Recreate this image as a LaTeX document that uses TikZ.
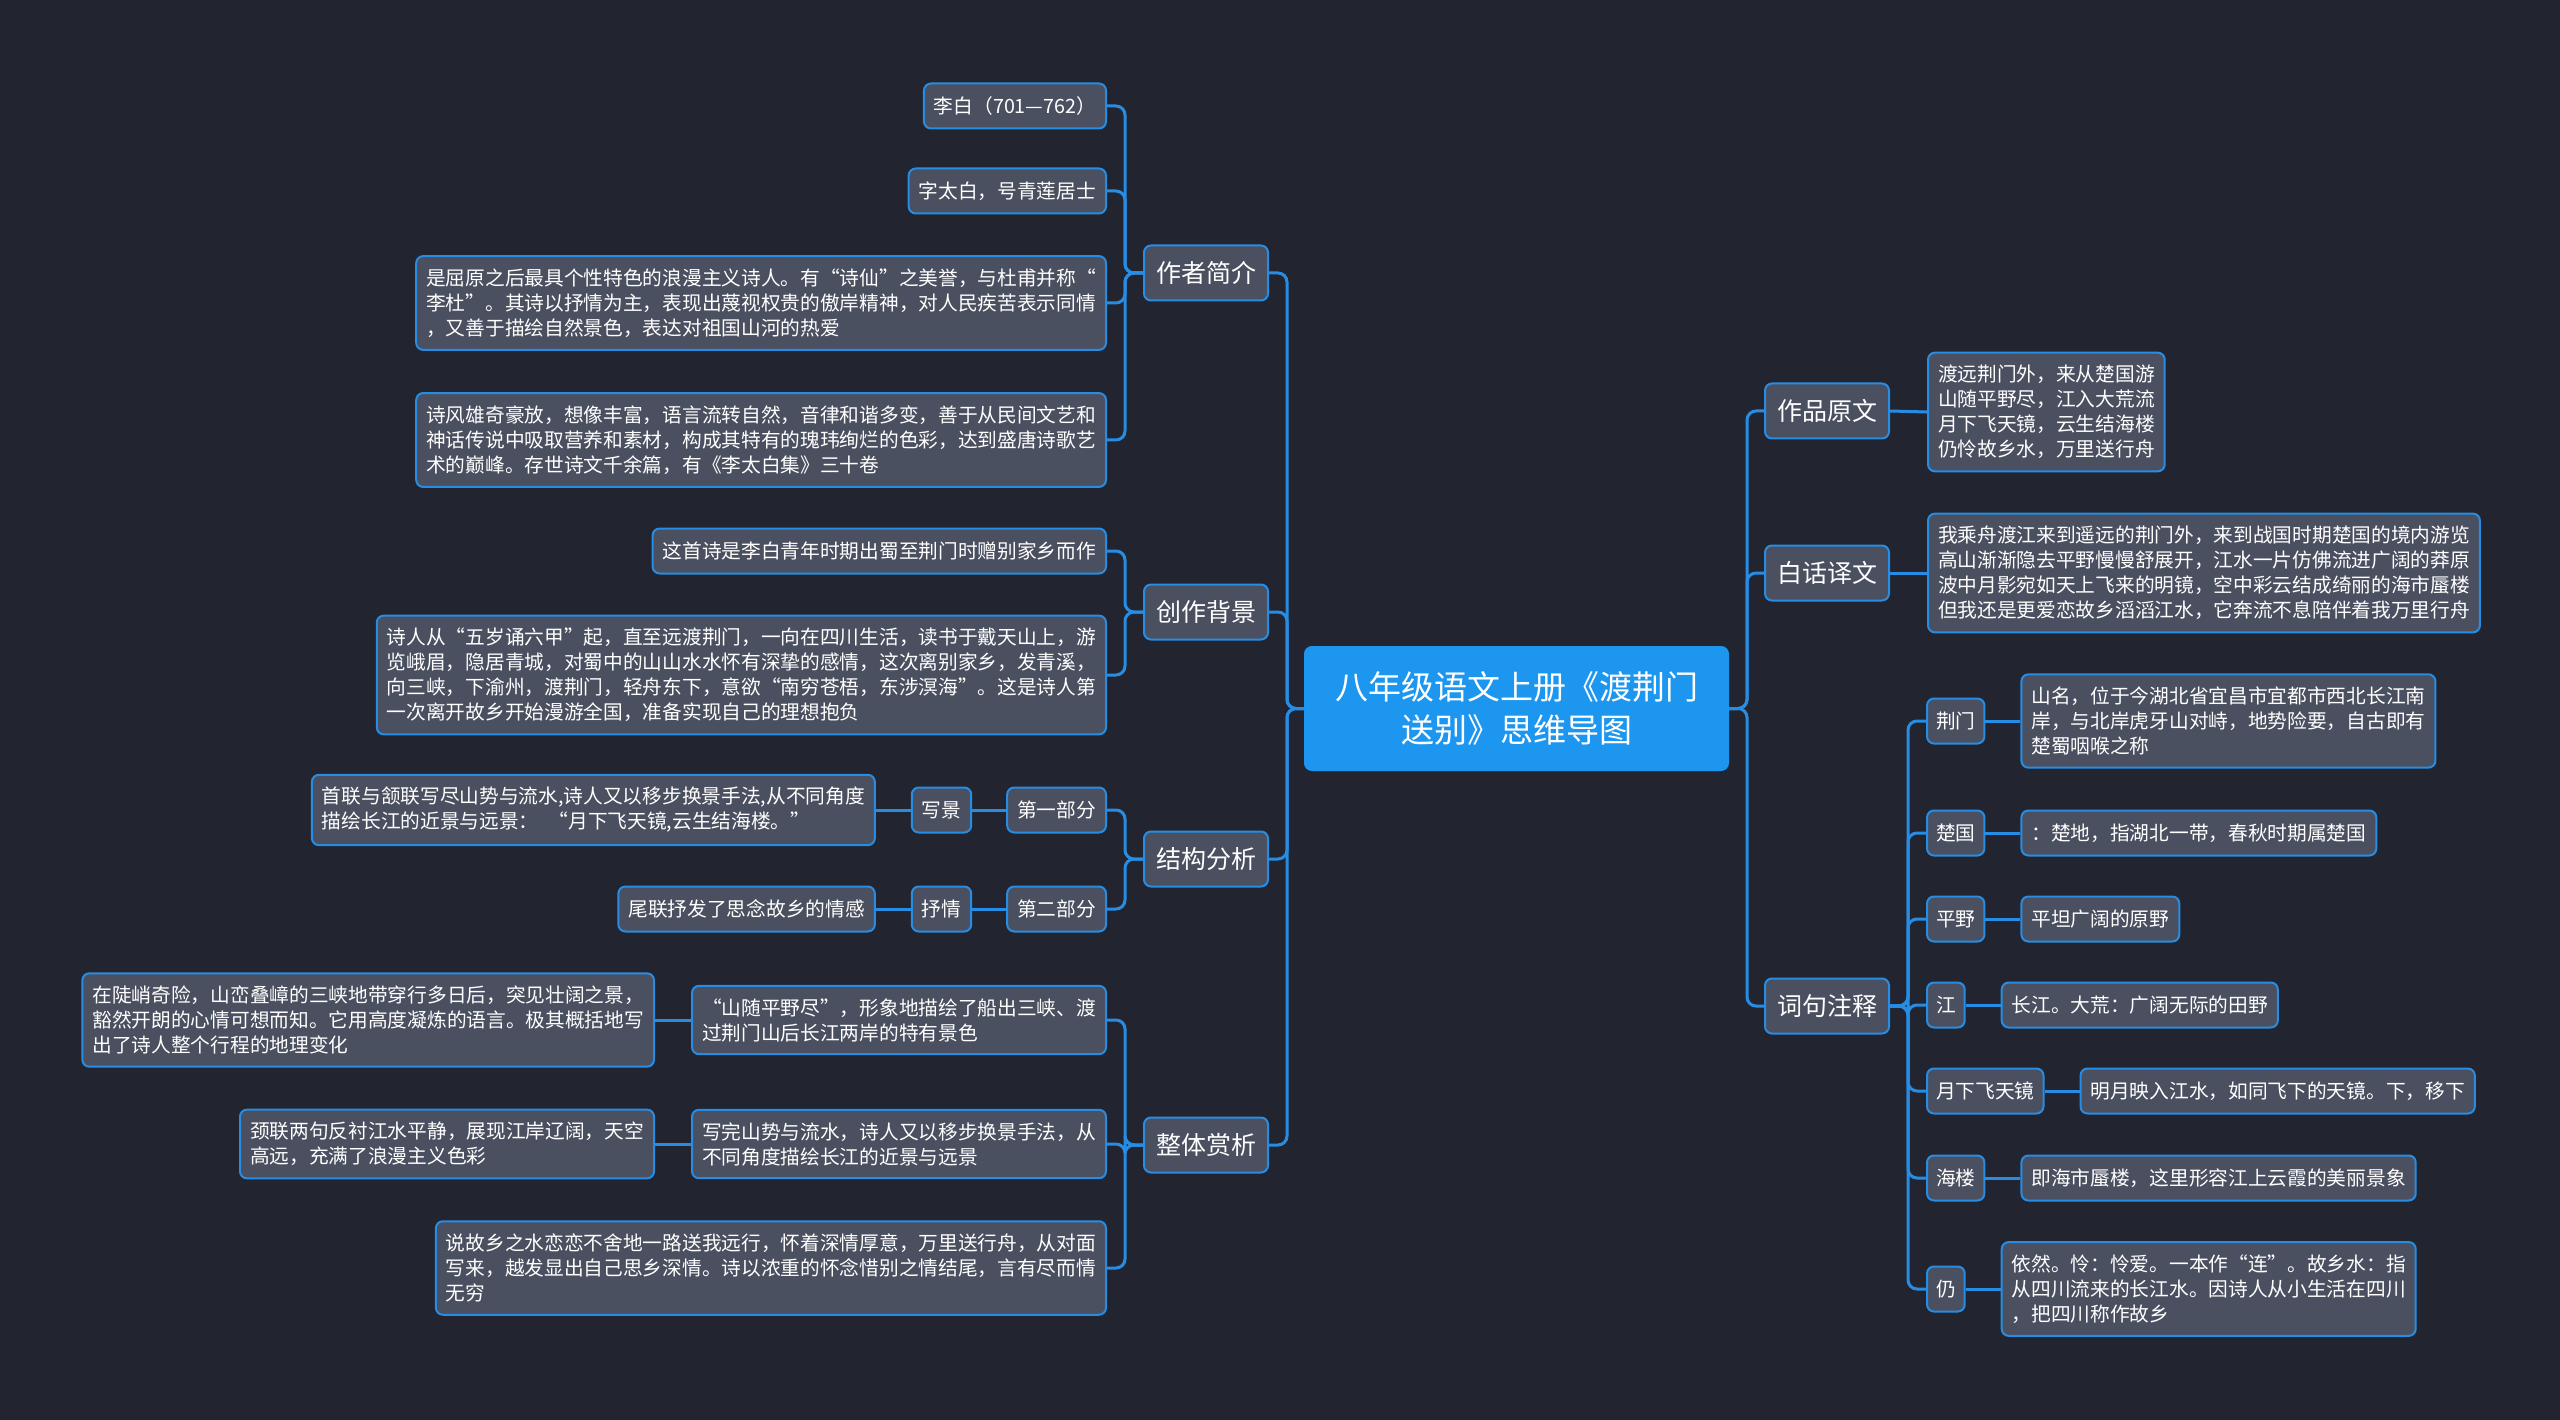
\documentclass[tikz,border=0pt]{standalone}
\usepackage{fontspec}
\newfontfamily\cjk{Noto Sans CJK SC}
\usetikzlibrary{positioning}
\usepackage{xcolor}
\definecolor{bgdark}{RGB}{34,37,48}
\definecolor{cardgrey}{RGB}{74,80,96}
\definecolor{linkblue}{RGB}{38,140,228}
\definecolor{rootblue}{RGB}{29,150,240}

\begin{document}
\begin{tikzpicture}[x=1pt,y=-1pt]
\tikzstyle{base} = [rounded corners=7pt, text=white, draw=linkblue,
            line width=2pt, fill=cardgrey];
\tikzstyle{topic} = [base, font=\cjk\fontsize{25}{30}\selectfont,
            inner xsep=12pt, minimum height=55pt];
\tikzstyle{leaf} = [base, font=\cjk\fontsize{19.7}{25}\selectfont,
            inner xsep=10pt, inner ysep=12.5pt, minimum height=45pt, align=left];
\tikzstyle{link} = [draw=linkblue, line width=3pt, rounded corners=9pt];

    \fill[bgdark] (0,0) rectangle (2560,1420);
    \useasboundingbox (0,0) rectangle (2560,1420);

    \node (root) at (1516.5,708.5) [base, fill=rootblue, draw=rootblue,
        minimum width=423pt, minimum height=123pt, align=center,
        font=\cjk\fontsize{33}{43}\selectfont] {八年级语文上册《渡荆门\\送别》思维导图};

    % left side
    \node (a) at (1269,273) [topic, anchor=east] {作者简介};
    \node (b) at (1269,612) [topic, anchor=east] {创作背景};
    \node (c) at (1269,859) [topic, anchor=east] {结构分析};
    \node (d) at (1269,1145) [topic, anchor=east] {整体赏析};

    \node (a1) at (1107,106) [leaf, anchor=east] {李白（701—762）};
    \node (a2) at (1107,191) [leaf, anchor=east] {字太白，号青莲居士};
    \node (a3) at (1107,303) [leaf, anchor=east] {是屈原之后最具个性特色的浪漫主义诗人。有“诗仙”之美誉，与杜甫并称“\\李杜”。其诗以抒情为主，表现出蔑视权贵的傲岸精神，对人民疾苦表示同情\\，又善于描绘自然景色，表达对祖国山河的热爱};
    \node (a4) at (1107,440) [leaf, anchor=east] {诗风雄奇豪放，想像丰富，语言流转自然，音律和谐多变，善于从民间文艺和\\神话传说中吸取营养和素材，构成其特有的瑰玮绚烂的色彩，达到盛唐诗歌艺\\术的巅峰。存世诗文千余篇，有《李太白集》三十卷};

    \node (b1) at (1107,551) [leaf, anchor=east] {这首诗是李白青年时期出蜀至荆门时赠别家乡而作};
    \node (b2) at (1107,675) [leaf, anchor=east] {诗人从“五岁诵六甲”起，直至远渡荆门，一向在四川生活，读书于戴天山上，游\\览峨眉，隐居青城，对蜀中的山山水水怀有深挚的感情，这次离别家乡，发青溪，\\向三峡，下渝州，渡荆门，轻舟东下，意欲“南穷苍梧，东涉溟海”。这是诗人第\\一次离开故乡开始漫游全国，准备实现自己的理想抱负};

    \node (c1) at (1107,810) [leaf, anchor=east] {第一部分};
    \node (c2) at (1107,909) [leaf, anchor=east] {第二部分};
    \node (c1a) [leaf, left=34pt of c1] {写景};
    \node (c1b) [leaf, left=35pt of c1a] {首联与颔联写尽山势与流水,诗人又以移步换景手法,从不同角度\\描绘长江的近景与远景：\hspace{10pt}“月下飞天镜,云生结海楼。”};
    \node (c2a) [leaf, left=34pt of c2] {抒情};
    \node (c2b) [leaf, left=35pt of c2a] {尾联抒发了思念故乡的情感};

    \node (d1) at (1107,1020) [leaf, anchor=east] {“山随平野尽”，形象地描绘了船出三峡、渡\\过荆门山后长江两岸的特有景色};
    \node (d2) at (1107,1144) [leaf, anchor=east] {写完山势与流水，诗人又以移步换景手法，从\\不同角度描绘长江的近景与远景};
    \node (d3) at (1107,1268) [leaf, anchor=east] {说故乡之水恋恋不舍地一路送我远行，怀着深情厚意，万里送行舟，从对面\\写来，越发显出自己思乡深情。诗以浓重的怀念惜别之情结尾，言有尽而情\\无穷};
    \node (d1a) [leaf, left=36pt of d1] {在陡峭奇险，山峦叠嶂的三峡地带穿行多日后，突见壮阔之景，\\豁然开朗的心情可想而知。它用高度凝炼的语言。极其概括地写\\出了诗人整个行程的地理变化};
    \node (d2a) [leaf, left=36pt of d2] {颈联两句反衬江水平静，展现江岸辽阔，天空\\高远，充满了浪漫主义色彩};

    % right side
    \node (e) at (1764,411) [topic, anchor=west] {作品原文};
    \node (f) at (1764,573) [topic, anchor=west] {白话译文};
    \node (g) at (1764,1006) [topic, anchor=west] {词句注释};

    \node (e1) at (1927,412) [leaf, anchor=west] {渡远荆门外，来从楚国游\\山随平野尽，江入大荒流\\月下飞天镜，云生结海楼\\仍怜故乡水，万里送行舟};
    \node (f1) at (1927,573) [leaf, anchor=west] {我乘舟渡江来到遥远的荆门外，来到战国时期楚国的境内游览\\高山渐渐隐去平野慢慢舒展开，江水一片仿佛流进广阔的莽原\\波中月影宛如天上飞来的明镜，空中彩云结成绮丽的海市蜃楼\\但我还是更爱恋故乡滔滔江水，它奔流不息陪伴着我万里行舟};

    \foreach \n/\y/\t in {1/721/荆门, 2/833/楚国, 3/919/平野, 4/1005/江,
                          5/1091/月下飞天镜, 6/1178/海楼, 7/1289/仍} {
        \node (g\n) at (1926,\y) [leaf, anchor=west, inner xsep=9pt] {\t};
    }
    \node (t1) [leaf, right=35pt of g1] {山名，位于今湖北省宜昌市宜都市西北长江南\\岸，与北岸虎牙山对峙，地势险要，自古即有\\楚蜀咽喉之称};
    \node (t2) [leaf, right=35pt of g2] {：楚地，指湖北一带，春秋时期属楚国};
    \node (t3) [leaf, right=35pt of g3] {平坦广阔的原野};
    \node (t4) [leaf, right=35pt of g4] {长江。大荒：广阔无际的田野};
    \node (t5) [leaf, right=35pt of g5] {明月映入江水，如同飞下的天镜。下，移下};
    \node (t6) [leaf, right=35pt of g6] {即海市蜃楼，这里形容江上云霞的美丽景象};
    \node (t7) [leaf, right=35pt of g7] {依然。怜：怜爱。一本作“连”。故乡水：指\\从四川流来的长江水。因诗人从小生活在四川\\，把四川称作故乡};

    % links
    \foreach \x in {a, b, c, d}
        \draw[link] (root.west) -- ++(-17pt,0) |- (\x.east);
    \foreach \x in {e, f, g}
        \draw[link] (root.east) -- ++(18pt,0) |- (\x.west);
    \foreach \x in {a1, a2, a3, a4}
        \draw[link] (a.west) -- ++(-18pt,0) |- (\x.east);
    \foreach \x in {b1, b2}
        \draw[link] (b.west) -- ++(-18pt,0) |- (\x.east);
    \foreach \x in {c1, c2}
        \draw[link] (c.west) -- ++(-18pt,0) |- (\x.east);
    \foreach \x in {d1, d2, d3}
        \draw[link] (d.west) -- ++(-18pt,0) |- (\x.east);
    \draw[link] (c1.west) -- (c1a.east);
    \draw[link] (c1a.west) -- (c1b.east);
    \draw[link] (c2.west) -- (c2a.east);
    \draw[link] (c2a.west) -- (c2b.east);
    \draw[link] (d1.west) -- (d1a.east);
    \draw[link] (d2.west) -- (d2a.east);
    \draw[link] (e.east) -- (e1.west);
    \draw[link] (f.east) -- (f1.west);
    \foreach \n in {1,...,7} {
        \draw[link] (g.east) -- ++(18pt,0) |- (g\n.west);
        \draw[link] (g\n.east) -- (t\n.west);
    }

\end{tikzpicture}
\end{document}
